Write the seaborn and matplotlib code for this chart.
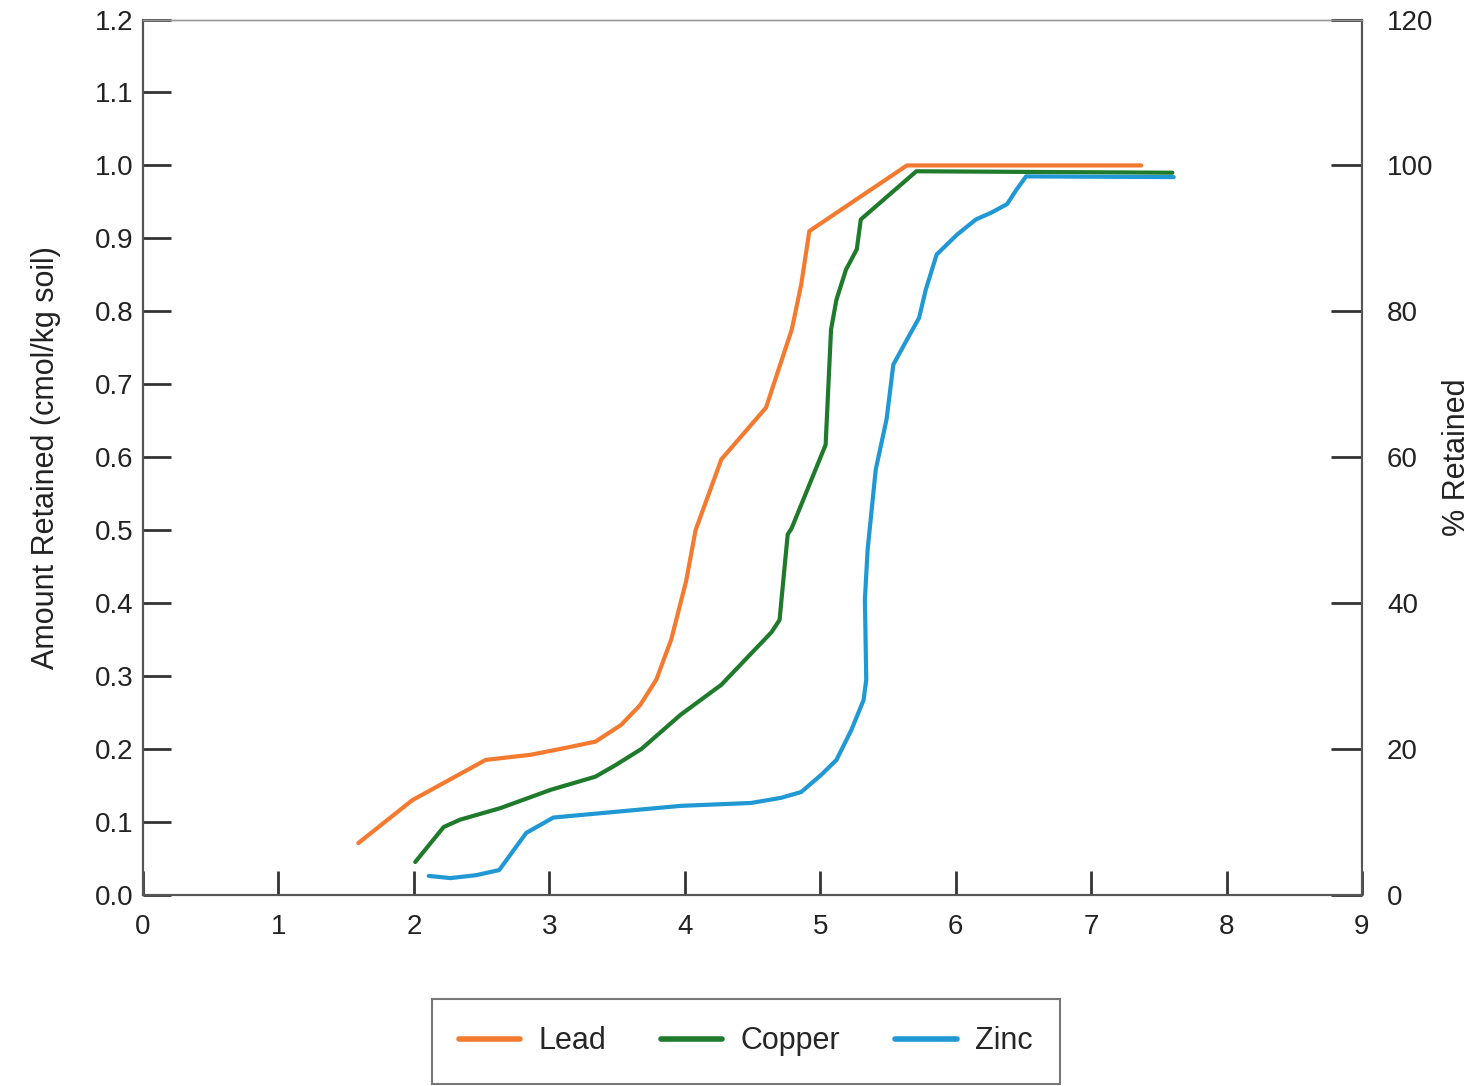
import matplotlib
matplotlib.use("Agg")
import matplotlib.pyplot as plt
import seaborn as sns
import pandas as pd

# values
lead_x = [1.59, 1.99, 2.53, 2.86, 3.08, 3.34, 3.53, 3.67, 3.79, 3.90, 4.01, 4.08,
          4.27, 4.60, 4.79, 4.86, 4.92, 5.64, 7.37]
lead_y = [0.071, 0.130, 0.185, 0.192, 0.200, 0.210, 0.233, 0.260, 0.295, 0.350, 0.430, 0.500,
          0.597, 0.668, 0.775, 0.837, 0.910, 1.000, 1.000]

copper_x = [2.01, 2.22, 2.34, 2.64, 3.01, 3.34, 3.49, 3.68, 3.97, 4.27, 4.64, 4.70,
            4.76, 4.79, 5.04, 5.08, 5.12, 5.19, 5.27, 5.30, 5.71, 7.60]
copper_y = [0.045, 0.093, 0.103, 0.119, 0.144, 0.162, 0.178, 0.200, 0.247, 0.288, 0.360, 0.377,
            0.494, 0.503, 0.617, 0.775, 0.816, 0.857, 0.885, 0.926, 0.992, 0.990]

zinc_x = [2.11, 2.27, 2.46, 2.63, 2.83, 3.03, 3.38, 3.97, 4.49, 4.71, 4.86, 5.01,
          5.12, 5.23, 5.32, 5.34, 5.33, 5.35, 5.41, 5.49, 5.54, 5.64, 5.73, 5.78,
          5.86, 6.01, 6.15, 6.26, 6.38, 6.45, 6.52, 7.61]
zinc_y = [0.026, 0.023, 0.027, 0.034, 0.085, 0.106, 0.112, 0.122, 0.126, 0.133, 0.141, 0.165,
          0.185, 0.226, 0.267, 0.295, 0.405, 0.473, 0.583, 0.652, 0.727, 0.761, 0.791, 0.830,
          0.878, 0.905, 0.926, 0.935, 0.947, 0.967, 0.985, 0.984]

metals = ["Lead", "Copper", "Zinc"]
colors = ["#f47a30", "#1f7a2c", "#1f98d4"]

df = pd.concat([
    pd.DataFrame({"x": lead_x, "y": lead_y, "metal": "Lead"}),
    pd.DataFrame({"x": copper_x, "y": copper_y, "metal": "Copper"}),
    pd.DataFrame({"x": zinc_x, "y": zinc_y, "metal": "Zinc"}),
], ignore_index=True)

sns.set_theme(style="ticks")
plt.rcParams["font.family"] = ["Liberation Sans", "DejaVu Sans"]

fig = plt.figure(figsize=(14.74, 10.86), dpi=100)
ax = fig.add_axes([0.097, 0.176, 0.827, 0.806])

sns.lineplot(data=df, x="x", y="y", hue="metal", hue_order=metals,
             palette=colors, sort=False, estimator=None, linewidth=3.0, ax=ax)

ax.set_xlim(0, 9)
ax.set_ylim(0, 1.2)
ax.set_xticks(range(0, 10))
ax.set_yticks([i / 10 for i in range(13)])
ax.set_yticklabels([f"{i / 10:.1f}" for i in range(13)])
ax.set_xlabel("")
ax.set_ylabel("Amount Retained (cmol/kg soil)", fontsize=22, color="#222222", labelpad=24)
ax.tick_params(axis="y", direction="in", length=20, width=2, labelsize=20,
               pad=7, colors="#333333", labelcolor="#222222")
ax.tick_params(axis="x", direction="in", length=17, width=2, labelsize=20,
               pad=14, colors="#333333", labelcolor="#222222")

ax2 = ax.twinx()
ax2.set_ylim(0, 120)
ax2.set_yticks(range(0, 121, 20))
ax2.tick_params(axis="y", direction="in", length=22, width=2, labelsize=20,
                pad=18, colors="#333333", labelcolor="#222222")
ax2.set_ylabel("% Retained", fontsize=22, color="#222222", labelpad=6)

for a in (ax, ax2):
    for side in ("left", "bottom", "right", "top"):
        a.spines[side].set_visible(True)
        a.spines[side].set_color("#555555")
        a.spines[side].set_linewidth(1.5)
    a.spines["top"].set_color("#999999")
    a.spines["top"].set_linewidth(1.0)

handles, labels = ax.get_legend_handles_labels()
ax.get_legend().remove()
leg = fig.legend(handles, labels, loc="center", bbox_to_anchor=(0.506, 0.041),
                 ncol=3, fontsize=22, frameon=True, fancybox=False,
                 handlelength=2.0, columnspacing=1.8, borderpad=0.9,
                 handletextpad=0.6)
leg.get_frame().set_edgecolor("#555555")
leg.get_frame().set_linewidth(1.5)
for line in leg.get_lines():
    line.set_linewidth(4)

fig.savefig("out.png", dpi=100)
